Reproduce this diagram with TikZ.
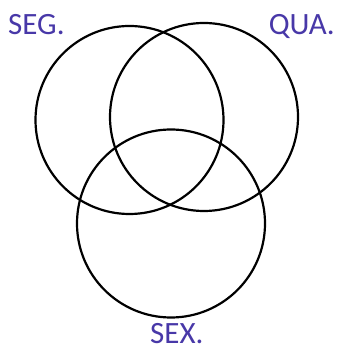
\documentclass[tikz,border=0pt]{standalone}
\usepackage{fontspec}
\setmainfont{Carlito}
\definecolor{lbl}{RGB}{72,56,168}
\begin{document}
\begin{tikzpicture}[x=1pt,y=1pt,
  setc/.style={circle,draw=black,line width=2.2pt,minimum size=188pt,inner sep=0pt},
  lab/.style={text=lbl,font=\fontsize{31}{31}\selectfont,inner sep=0pt,text depth=0pt}]
\useasboundingbox (0,0) rectangle (338,347);
\node[setc] (seg) at (129.5,227) {};
\node[setc] (qua) at (204,230) {};
\node[setc] (sex) at (171,123.5) {};
\node[lab,anchor=base west] (tseg) at (8,312) {SEG.};
\node[lab,anchor=base east] (tqua) at (335,312) {QUA.};
\node[lab,anchor=base west] (tsex) at (150,4) {SEX.};
\end{tikzpicture}
\end{document}
